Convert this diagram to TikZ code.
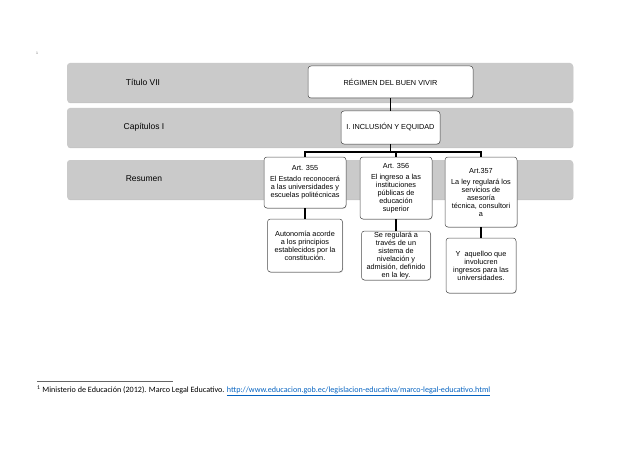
\documentclass[tikz,border=0pt]{standalone}
\usepackage{fontspec}
\setmainfont{Liberation Sans}
\newfontfamily\notefont{Carlito}
\usetikzlibrary{shadows}
\definecolor{bandgray}{RGB}{202,202,202}
\definecolor{linkblue}{RGB}{5,99,193}

\begin{document}
\begin{tikzpicture}[x=1pt,y=-1pt,
  band/.style={rectangle,
        fill = bandgray,
        rounded corners = 3pt,
        drop shadow = {shadow xshift=0.4pt, shadow yshift=-1.2pt, fill=black!45},
        minimum width = 506pt,
        minimum height = 39pt},
  card/.style={rectangle,
        draw = black!70,
        line width = 0.5pt,
        fill = white,
        rounded corners = 3pt,
        drop shadow = {shadow xshift=0.5pt, shadow yshift=-0.8pt, fill=black!35}},
  cardtext/.style={align=center,
        font=\fontsize{7.3}{8}\selectfont},
  bandtext/.style={font=\fontsize{8.5}{10}\selectfont},
  link/.style={line width = 1.2pt, black}]

  \useasboundingbox (0,0) rectangle (638,452);

  \node[font=\fontsize{3.5}{4}\selectfont, text=black!60] (mark) at (37,53) {1};

  % bands
  \node[band] (titulo) at (320,82.5) {};
  \node[bandtext] at (143,82) {Título VII};

  \node[band] (capitulo) at (320,127.5) {};
  \node[bandtext] at (144,127) {Capítulos I};

  \node[band] (resumen) at (320,179.5) {};
  \node[bandtext] at (144,179) {Resumen};

  % upper boxes
  \node[card,
        minimum width = 165pt,
        minimum height = 32pt
        ] (reg) at (390.5,82) {};
  \node[cardtext] at (reg.center) {RÉGIMEN DEL BUEN VIVIR};

  \node[card,
        minimum width = 99pt,
        minimum height = 33pt
        ] (inc) at (390.5,127.5) {};
  \node[cardtext] at (inc.center) {I. INCLUSIÓN Y EQUIDAD};

  % articles
  \node[card,
        minimum width = 82pt,
        minimum height = 51pt
        ] (art355) at (305,182.5) {};
  \node[cardtext] at (art355.center) {Art. 355\\[3pt]El Estado reconocerá\\a las universidades y\\escuelas politécnicas};

  \node[card,
        minimum width = 72pt,
        minimum height = 62pt
        ] (art356) at (396,188) {};
  \node[cardtext] at (art356.center) {Art. 356\\[3pt]El ingreso a las\\instituciones\\públicas de\\educación\\superior};

  \node[card,
        minimum width = 72pt,
        minimum height = 70pt
        ] (art357) at (481,192) {};
  \node[cardtext] at (art357.center) {Art.357\\[3pt]La ley regulará los\\servicios de\\asesoría\\técnica, consultori\\a};

  % details
  \node[card,
        minimum width = 75pt,
        minimum height = 53pt
        ] (aut) at (305,245.5) {};
  \node[cardtext] at (aut.center) {Autonomía acorde\\a los principios\\establecidos por la\\constitución.};

  \node[card,
        minimum width = 69pt,
        minimum height = 49pt
        ] (niv) at (396,255.5) {};
  \node[cardtext] at (niv.center) {Se regulará a\\través de un\\sistema de\\nivelación y\\admisión, definido\\en la ley.};

  \node[card,
        minimum width = 70pt,
        minimum height = 55pt
        ] (ing) at (481,265.5) {};
  \node[cardtext] at (ing.center) {Y\ \ aquelloo que\\involucren\\ingresos para las\\universidades.};

  \coordinate (split) at (390.5,152);

  \draw[link] (reg.south) -- (inc.north);
  \draw[link] (inc.south) -- (split);
  \draw[link] (split) -| (art355.north);
  \draw[link] (split) -| (art356.north);
  \draw[link] (split) -| (art357.north);
  \draw[link] (art355.south) -- (aut.north);
  \draw[link] (art356.south) -- (niv.north);
  \draw[link] (art357.south) -- (ing.north);

  % footnote
  \coordinate (ruleA) at (37,381);
  \coordinate (ruleB) at (173,381);
  \draw[black!60, line width=0.6pt] (ruleA) -- (ruleB);
  \node[anchor=west, inner sep=0pt,
        font=\notefont\fontsize{8.1}{9}\selectfont] (note) at (37,391)
    {\textsuperscript{1} Ministerio de Educación (2012). Marco Legal Educativo. \textcolor{linkblue}{\underline{http://www.educacion.gob.ec/legislacion-educativa/marco-legal-educativo.html}}};

\end{tikzpicture}
\end{document}
